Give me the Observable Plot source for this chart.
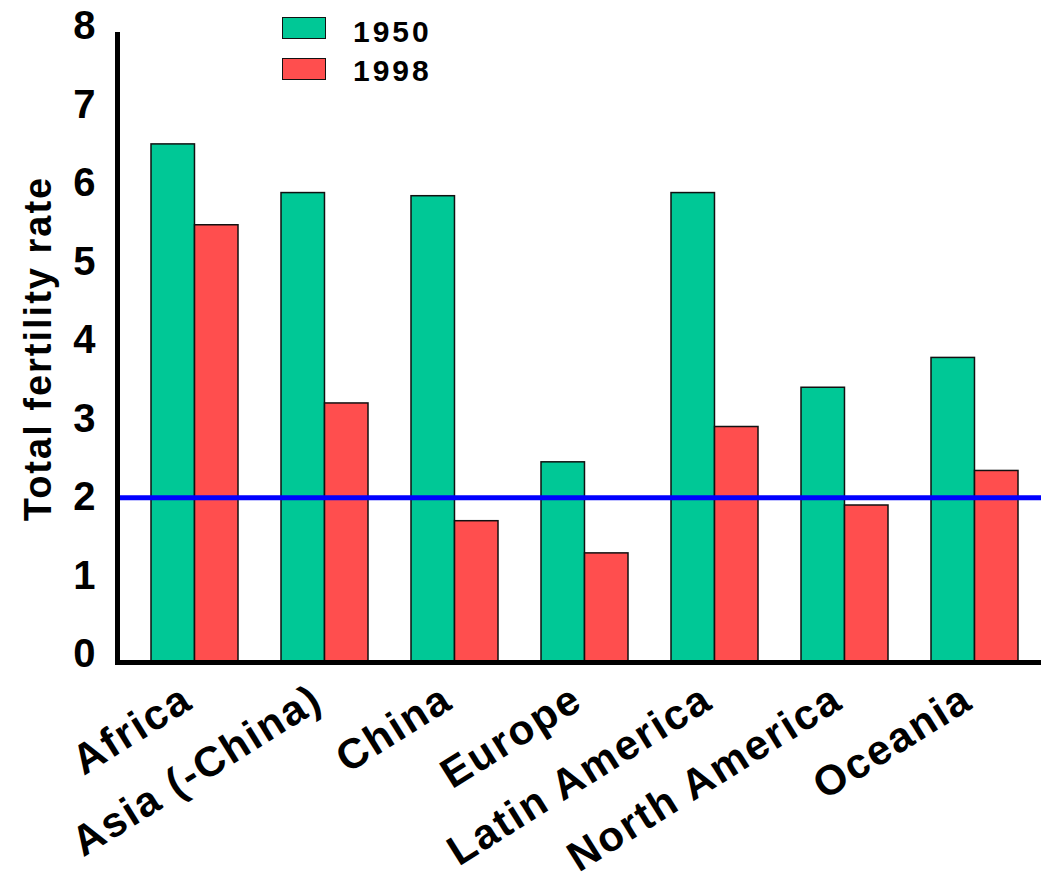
<!DOCTYPE html>
<html><head><meta charset="utf-8">
<script src="https://cdn.jsdelivr.net/npm/d3@7"></script>
<script src="https://cdn.jsdelivr.net/npm/@observablehq/plot@0.6"></script>
<style>
body{margin:0;background:#fff;}
#chart{position:relative;width:1041px;height:882px;font-family:"Liberation Sans",Arial,sans-serif;font-weight:bold;}
.sw{position:absolute;left:282px;width:42px;height:20px;border:1.5px solid #111;}
.lt{position:absolute;left:353px;font-size:30px;line-height:30px;letter-spacing:3px;color:#000;}
</style></head>
<body><div id="chart"></div>
<script>
const regions = ["Africa","Asia (-China)","China","Europe","Latin America","North America","Oceania"];
const tfr1950 = [6.6, 5.98, 5.94, 2.55, 5.98, 3.5, 3.88];
const tfr1998 = [5.57, 3.3, 1.8, 1.39, 3.0, 2.0, 2.44];
const years = ["1950", "1998"];
const colors = ["#00c896", "#ff4e4e"];
const yTicks = [0, 1, 2, 3, 4, 5, 6, 7, 8];
const replacementRate = 2.1;
const yLabel = "Total fertility rate";

const rows = regions.flatMap((r, i) => [
  {region: r, year: years[0], value: tfr1950[i]},
  {region: r, year: years[1], value: tfr1998[i]}
]);

const W = 1041, H = 882, mL = 117, mT = 34, mB = 220;
const xr = [117, 1051], pi = 0.332, po = 0.25;
const step = (xr[1] - xr[0]) / (regions.length - pi + 2 * po);
const bw = step * (1 - pi);
const half = bw / 2;
const font = '"Liberation Sans", Arial, sans-serif';

const plot = Plot.plot({
  width: W, height: H,
  marginLeft: mL, marginRight: 0, marginTop: mT, marginBottom: mB,
  style: {fontFamily: font, fontWeight: "bold", background: "#fff", color: "#000", letterSpacing: "2px"},
  x: {domain: regions, range: xr, paddingInner: pi, paddingOuter: po, axis: null},
  y: {domain: [0, 8], axis: null},
  color: {domain: years, range: colors},
  marks: [
    Plot.barY(rows.filter(d => d.year === years[0]), {x: "region", y: "value", fill: d => d.year, stroke: "#111", strokeWidth: 1.5, insetRight: half}),
    Plot.barY(rows.filter(d => d.year === years[1]), {x: "region", y: "value", fill: d => d.year, stroke: "#111", strokeWidth: 1.5, insetLeft: half}),
    Plot.ruleY([replacementRate], {stroke: "#0000ff", strokeWidth: 5}),
    Plot.ruleY([0], {stroke: "#000", strokeWidth: 5}),
    Plot.frame({anchor: "left", stroke: "#000", strokeWidth: 5}),
    Plot.axisY(yTicks, {tickSize: 0, tickPadding: 20, fontSize: 40, dy: -8, label: null, tickFormat: d => String(d)}),
    Plot.text([yLabel], {frameAnchor: "left", rotate: -90, dx: -79, textAnchor: "middle", lineAnchor: "middle", fontSize: 38, fill: "#000"}),
    Plot.text(regions, {x: d => d, frameAnchor: "bottom", dy: 44, dx: 0, rotate: -32, textAnchor: "end", lineAnchor: "bottom", fontSize: 42, fill: "#000"})
  ]
});
const chart = document.getElementById("chart");
chart.appendChild(plot);

const swTops = [17, 58];
const txtTops = [17, 56];
years.forEach((y, i) => {
  const s = document.createElement("div");
  s.className = "sw"; s.style.top = swTops[i] + "px"; s.style.background = colors[i];
  chart.appendChild(s);
  const t = document.createElement("div");
  t.className = "lt"; t.style.top = txtTops[i] + "px"; t.textContent = y;
  chart.appendChild(t);
});
</script>
</body></html>
